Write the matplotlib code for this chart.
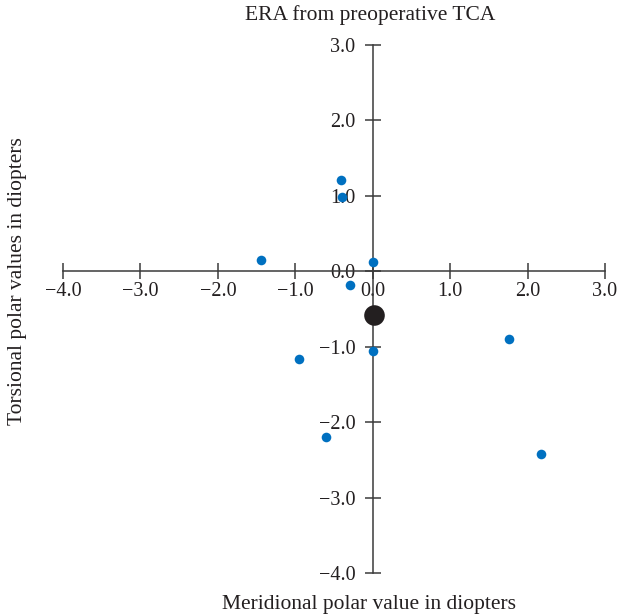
import matplotlib
matplotlib.use('Agg')
import matplotlib.pyplot as plt

# ERA values (meridional, torsional), diopters
meridional = [-0.41, -0.40, -1.44, 0.0, -0.29, -0.95, 0.0, 1.76, -0.60, 2.17]
torsional = [1.21, 0.98, 0.15, 0.12, -0.18, -1.16, -1.06, -0.90, -2.20, -2.42]

# centroid (big black dot)
mean_x = [0.02]
mean_y = [-0.58]

ticks = [-4.0, -3.0, -2.0, -1.0, 0.0, 1.0, 2.0, 3.0]

plt.rcParams['font.family'] = ['Liberation Serif', 'DejaVu Serif']
plt.rcParams['font.size'] = 15.5

fig = plt.figure(figsize=(6.22, 6.16), dpi=100)
ax = fig.add_axes([63/622, 1-573/616, (605-63)/622, (573-45)/616])

ax.scatter(meridional, torsional, s=48, color='#0070C0', zorder=3, linewidths=0)
ax.scatter(mean_x, mean_y, s=220, color='#231F20', zorder=4, linewidths=0)

ax.set_xlim(-4, 3)
ax.set_ylim(-4, 3)

# axes crossing at the origin
ax.spines['left'].set_position(('data', 0))
ax.spines['bottom'].set_position(('data', 0))
ax.spines['right'].set_visible(False)
ax.spines['top'].set_visible(False)
for s in ['left', 'bottom']:
    ax.spines[s].set_color('#3a3a3a')
    ax.spines[s].set_linewidth(1.1)

labels = ['\u2212%.1f' % -t if t < 0 else '%.1f' % t for t in ticks]
ax.set_xticks(ticks)
ax.set_yticks(ticks)
ax.set_xticklabels(labels)
ax.set_yticklabels(labels)
ax.tick_params(direction='inout', length=11, width=1.1, color='#3a3a3a',
               labelcolor='#231F20', labelsize=14.5)
ax.tick_params(axis='x', pad=2)
ax.tick_params(axis='y', pad=7)

ax.patch.set_visible(False)

fig.text(370/622, 1-15/616, 'ERA from preoperative TCA', ha='center', va='center', color='#231F20')
fig.text(369/622, 1-604/616, 'Meridional polar value in diopters', ha='center', va='center', color='#231F20')
fig.text(18/622, 1-281/616, 'Torsional polar values in diopters', ha='center', va='center', rotation=90, color='#231F20')

fig.savefig('out.png', dpi=100)
